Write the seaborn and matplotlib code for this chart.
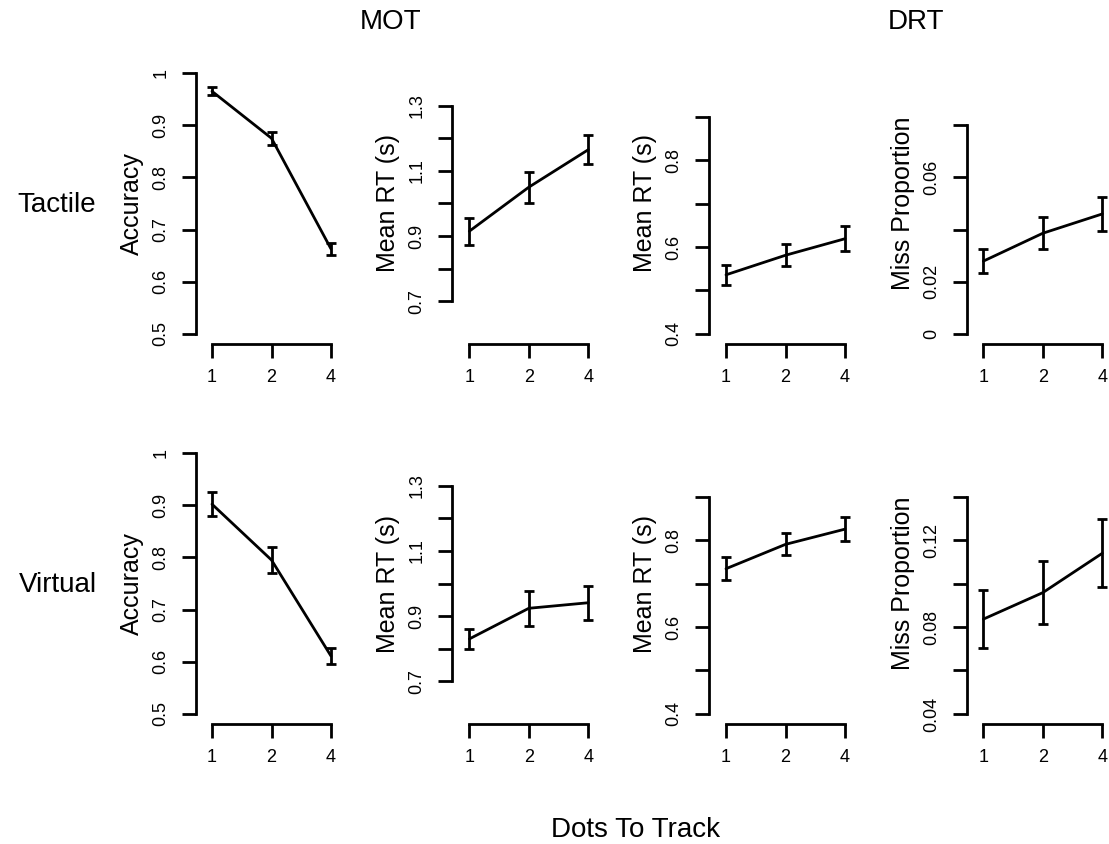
import numpy as np
import pandas as pd
import matplotlib
matplotlib.use("Agg")
import matplotlib.pyplot as plt
import seaborn as sns

# ---------------- data ----------------
dot_positions = [1, 2, 3]
dot_labels = ["1", "2", "4"]

acc_tac = [0.965, 0.875, 0.663]
acc_tac_se = [0.008, 0.012, 0.011]
motrt_tac = [0.915, 1.050, 1.165]
motrt_tac_se = [0.041, 0.047, 0.045]
drtrt_tac = [0.536, 0.581, 0.619]
drtrt_tac_se = [0.023, 0.025, 0.029]
miss_tac = [0.0279, 0.0386, 0.0460]
miss_tac_se = [0.0045, 0.0062, 0.0065]

acc_vir = [0.902, 0.795, 0.611]
acc_vir_se = [0.0235, 0.024, 0.016]
motrt_vir = [0.830, 0.924, 0.941]
motrt_vir_se = [0.032, 0.053, 0.052]
drtrt_vir = [0.734, 0.790, 0.825]
drtrt_vir_se = [0.027, 0.025, 0.027]
miss_vir = [0.0836, 0.0958, 0.1139]
miss_vir_se = [0.0134, 0.0146, 0.0157]

row_names = ["Tactile", "Virtual"]
task_names = ["MOT", "DRT"]
ylabels = ["Accuracy", "Mean RT (s)", "Mean RT (s)", "Miss Proportion"]

acc_ticks = [0.5, 0.6, 0.7, 0.8, 0.9, 1.0]
acc_ticklabels = ["0.5", "0.6", "0.7", "0.8", "0.9", "1"]
motrt_ticks = [0.7, 0.8, 0.9, 1.0, 1.1, 1.2, 1.3]
motrt_ticklabels = ["0.7", "", "0.9", "", "1.1", "", "1.3"]
drtrt_ticks = [0.4, 0.5, 0.6, 0.7, 0.8, 0.9]
drtrt_ticklabels = ["0.4", "", "0.6", "", "0.8", ""]
miss_tac_ticks = [0.0, 0.02, 0.04, 0.06, 0.08]
miss_tac_ticklabels = ["0", "0.02", "", "0.06", ""]
miss_vir_ticks = [0.04, 0.06, 0.08, 0.10, 0.12, 0.14]
miss_vir_ticklabels = ["0.04", "", "0.08", "", "0.12", ""]

acc_lim = (0.5, 1.0)
motrt_lim = (0.6, 1.4)
drtrt_lim = (0.4, 1.0)
miss_tac_lim = (0.0, 0.1)
miss_vir_lim = (0.04, 0.16)

panels = [
    [(acc_tac, acc_tac_se, acc_lim, acc_ticks, acc_ticklabels),
     (motrt_tac, motrt_tac_se, motrt_lim, motrt_ticks, motrt_ticklabels),
     (drtrt_tac, drtrt_tac_se, drtrt_lim, drtrt_ticks, drtrt_ticklabels),
     (miss_tac, miss_tac_se, miss_tac_lim, miss_tac_ticks, miss_tac_ticklabels)],
    [(acc_vir, acc_vir_se, acc_lim, acc_ticks, acc_ticklabels),
     (motrt_vir, motrt_vir_se, motrt_lim, motrt_ticks, motrt_ticklabels),
     (drtrt_vir, drtrt_vir_se, drtrt_lim, drtrt_ticks, drtrt_ticklabels),
     (miss_vir, miss_vir_se, miss_vir_lim, miss_vir_ticks, miss_vir_ticklabels)],
]

# ---------------- style ----------------
sns.set_style("ticks")
plt.rcParams["font.family"] = ["Liberation Sans", "DejaVu Sans"]
plt.rcParams["text.color"] = "black"
plt.rcParams["axes.labelcolor"] = "black"
plt.rcParams["xtick.color"] = "black"
plt.rcParams["ytick.color"] = "black"
plt.rcParams["axes.edgecolor"] = "black"

W, H = 1109, 844
fig = plt.figure(figsize=(W / 100, H / 100), dpi=100)

col_left_px = [195.7, 451.7, 709.0, 966.7]
col_x1_px = [212.0, 469.3, 726.0, 983.3]
unit_px = 59.5
ax_w_px = 142.0
row_top_px = [62.6, 442.6]
ax_h_px = 281.8

lw = 2.0
for r in range(2):
    for c in range(4):
        vals, se, lim, ticks, tlabels = panels[r][c]
        left = col_left_px[c]
        bottom_px = row_top_px[r] + ax_h_px
        ax = fig.add_axes([left / W, 1 - bottom_px / H, ax_w_px / W, ax_h_px / H])
        df = pd.DataFrame({"pos": dot_positions, "val": vals, "se": se})
        sns.lineplot(data=df, x="pos", y="val", ax=ax, color="black", lw=lw,
                     errorbar=None, sort=False)
        ax.errorbar(df["pos"], df["val"], yerr=df["se"], fmt="none", ecolor="black",
                    elinewidth=lw, capsize=3.6, capthick=lw)
        x0 = 1 - (col_x1_px[c] - left) / unit_px
        ax.set_xlim(x0, x0 + ax_w_px / unit_px)
        rng = lim[1] - lim[0]
        ax.set_ylim(lim[0] - 0.04 * rng, lim[1] + 0.04 * rng)
        ax.set_xticks(dot_positions)
        ax.set_yticks(ticks)
        sns.despine(ax=ax, trim=True)
        ax.set_xticks(dot_positions, labels=dot_labels)
        ax.set_yticks(ticks, labels=tlabels)
        for lab in ax.get_yticklabels():
            lab.set_rotation(90)
            lab.set_va("center")
        ax.spines["left"].set_linewidth(lw)
        ax.spines["bottom"].set_linewidth(lw)
        ax.spines["left"].set_color("black")
        ax.spines["bottom"].set_color("black")
        ax.tick_params(axis="both", length=10, width=lw, labelsize=13, color="black",
                       labelcolor="black")
        ax.tick_params(axis="y", pad=9)
        ax.tick_params(axis="x", pad=8)
        ax.set_xlabel("")
        ax.set_ylabel(ylabels[c], fontsize=18, labelpad=6, color="black")
        ax.set_facecolor("none")

# Outer labels
fig.text(391 / W, 1 - 22 / H, task_names[0], fontsize=20, ha="center", va="center", color="black")
fig.text(916 / W, 1 - 22 / H, task_names[1], fontsize=20, ha="center", va="center", color="black")
fig.text(57 / W, 1 - 205 / H, row_names[0], fontsize=20, ha="center", va="center", color="black")
fig.text(58 / W, 1 - 585 / H, row_names[1], fontsize=20, ha="center", va="center", color="black")
fig.text(636 / W, 1 - 830 / H, "Dots To Track", fontsize=20, ha="center", va="center", color="black")

fig.savefig("out.png", dpi=100, facecolor="white")
